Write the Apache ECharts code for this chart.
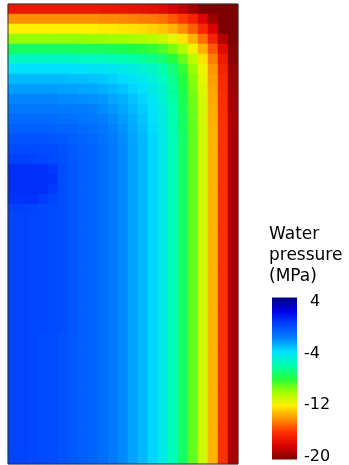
<!DOCTYPE html>
<html>
<head>
    <meta charset="utf-8">
    <title>Water pressure</title>
    <script src="https://cdn.jsdelivr.net/npm/echarts@6/dist/echarts.min.js"></script>
    <style>
        html, body { margin: 0; padding: 0; background: #fff; }
        #chart { width: 349px; height: 465px; }
    </style>
</head>
<body>
    <div id="chart"></div>

    <script type="text/javascript">
        // columns left -> right, rows top -> bottom (10px cells)
        var colIds = ['0','1','2','3','4','5','6','7','8','9','10','11','12','13','14','15','16','17','18','19','20','21','22'];
        var rowIds = ['0','1','2','3','4','5','6','7','8','9','10','11','12','13','14','15','16','17','18','19','20','21','22',
                      '23','24','25','26','27','28','29','30','31','32','33','34','35','36','37','38','39','40','41','42','43','44','45'];

        // water pressure (MPa), one array per row
        var row00 = [-17,-17,-17,-17,-17,-17,-17,-17,-17,-17.1,-17.1,-17.1,-17.2,-17.3,-17.4,-17.6,-18,-18.5,-19.2,-20,-20,-20,-20];
        var row01 = [-14,-14,-14,-14,-14,-14,-14,-14,-14,-14.1,-14.1,-14.2,-14.3,-14.4,-14.5,-14.7,-15.2,-15.8,-16.6,-17.8,-19.3,-20,-20];
        var row02 = [-12,-12,-12,-12,-12,-12,-12,-12,-12,-12.1,-12.1,-12.2,-12.3,-12.4,-12.6,-12.9,-13.3,-14,-15,-16.3,-17.9,-20,-20];
        var row03 = [-9.8,-9.8,-9.8,-9.8,-9.8,-9.8,-9.8,-9.8,-9.9,-9.9,-10,-10,-10.2,-10.3,-10.5,-10.8,-11.4,-12.2,-13.3,-14.7,-16.5,-18.8,-20];
        var row04 = [-7.4,-7.4,-7.4,-7.4,-7.4,-7.4,-7.4,-7.5,-7.5,-7.5,-7.6,-7.7,-7.9,-8.1,-8.3,-8.7,-9.4,-10.4,-11.7,-13.3,-15.2,-17.6,-19.8];
        var row05 = [-5.5,-5.5,-5.5,-5.5,-5.5,-5.5,-5.5,-5.6,-5.6,-5.7,-5.8,-5.9,-6.1,-6.4,-6.7,-7.2,-8,-9.1,-10.6,-12.3,-14.4,-16.9,-19.8];
        var row06 = [-4,-4,-4,-4,-4,-4,-4.1,-4.1,-4.2,-4.2,-4.4,-4.6,-4.8,-5.1,-5.5,-6.1,-7,-8.3,-9.9,-11.7,-13.9,-16.5,-19.4];
        var row07 = [-3.2,-3.2,-3.2,-3.2,-3.2,-3.2,-3.3,-3.3,-3.4,-3.5,-3.7,-3.9,-4.2,-4.5,-5,-5.6,-6.6,-8,-9.6,-11.5,-13.7,-16.3,-19.3];
        var row08 = [-2.6,-2.6,-2.6,-2.6,-2.6,-2.7,-2.7,-2.8,-2.8,-3,-3.2,-3.4,-3.8,-4.1,-4.6,-5.3,-6.4,-7.8,-9.4,-11.3,-13.6,-16.2,-19.2];
        var row09 = [-2.1,-2.1,-2.1,-2.1,-2.1,-2.2,-2.2,-2.3,-2.4,-2.5,-2.8,-3,-3.4,-3.8,-4.3,-5.1,-6.2,-7.6,-9.2,-11.2,-13.5,-16.1,-19.1];
        var row10 = [-1.7,-1.7,-1.7,-1.7,-1.7,-1.8,-1.8,-1.9,-2,-2.2,-2.5,-2.8,-3.2,-3.6,-4.2,-4.9,-6,-7.5,-9.2,-11.1,-13.4,-16.1,-19.1];
        var row11 = [-1.3,-1.3,-1.3,-1.3,-1.3,-1.4,-1.5,-1.6,-1.7,-1.9,-2.2,-2.6,-3,-3.5,-4,-4.8,-5.9,-7.4,-9.1,-11.1,-13.4,-16,-19];
        var row12 = [-0.9,-0.9,-0.9,-0.9,-1,-1,-1.1,-1.3,-1.4,-1.7,-2,-2.4,-2.9,-3.3,-3.9,-4.7,-5.9,-7.4,-9,-11,-13.3,-16,-19];
        var row13 = [-0.5,-0.5,-0.5,-0.5,-0.6,-0.7,-0.9,-1,-1.2,-1.5,-1.9,-2.3,-2.8,-3.2,-3.8,-4.6,-5.8,-7.3,-9,-11,-13.3,-16,-19];
        var row14 = [-0.2,-0.2,-0.2,-0.3,-0.3,-0.5,-0.7,-0.9,-1.1,-1.4,-1.8,-2.2,-2.7,-3.2,-3.8,-4.6,-5.8,-7.3,-9,-11,-13.3,-16,-19];
        var row15 = [0.1,0.1,0,-0.1,-0.2,-0.4,-0.7,-0.9,-1.1,-1.4,-1.8,-2.2,-2.7,-3.2,-3.8,-4.6,-5.8,-7.3,-9,-11,-13.3,-16,-19];
        var row16 = [0.6,0.6,0.6,0.6,0.3,-0.3,-0.6,-0.9,-1.1,-1.4,-1.8,-2.2,-2.7,-3.2,-3.8,-4.6,-5.8,-7.3,-9,-11,-13.3,-16,-19];
        var row17 = [0.6,0.6,0.6,0.6,0.5,-0.3,-0.6,-0.9,-1.1,-1.4,-1.8,-2.2,-2.7,-3.2,-3.8,-4.6,-5.8,-7.3,-9,-11,-13.3,-16,-19];
        var row18 = [0.6,0.6,0.6,0.6,0.3,-0.3,-0.6,-0.9,-1.1,-1.4,-1.8,-2.2,-2.7,-3.2,-3.8,-4.6,-5.8,-7.3,-9,-11,-13.3,-16,-19];
        var row19 = [0.5,0.5,0.5,0.3,0,-0.3,-0.6,-0.9,-1.1,-1.4,-1.8,-2.2,-2.7,-3.2,-3.8,-4.6,-5.8,-7.3,-9,-11,-13.3,-16,-19];
        var row20 = [0.1,0.1,0,-0.1,-0.2,-0.3,-0.6,-0.9,-1.1,-1.4,-1.8,-2.2,-2.7,-3.2,-3.8,-4.6,-5.8,-7.3,-9,-11,-13.3,-16,-19];
        var rowMid = [0,0,-0.1,-0.1,-0.2,-0.3,-0.6,-0.9,-1.1,-1.4,-1.8,-2.2,-2.7,-3.2,-3.8,-4.6,-5.8,-7.3,-9,-11,-13.3,-16,-19];
        var rowLow = [0,0,-0.1,-0.2,-0.3,-0.5,-0.7,-0.9,-1.1,-1.4,-1.8,-2.2,-2.7,-3.2,-3.8,-4.6,-5.8,-7.3,-9,-11,-13.3,-16,-19];

        var fieldRows = [row00,row01,row02,row03,row04,row05,row06,row07,row08,row09,row10,
                         row11,row12,row13,row14,row15,row16,row17,row18,row19,row20,
                         rowMid,rowMid,rowMid,rowMid,rowMid,rowMid,rowMid,rowMid,rowMid,rowMid,rowMid,rowMid,
                         rowLow,rowLow,rowLow,rowLow,rowLow,rowLow,rowLow,rowLow,rowLow,rowLow,rowLow,rowLow,rowLow];

        var tickLabels = [4, -4, -12, -20];
        var scaleMin = -20, scaleMax = 4;
        // the colour bar reaches a little past the end ticks
        var barEnds = [4.7, -20.4];
        // colours from -20 up to 4
        var scaleColors = ['#7F0000','#D80000','#FF3000','#FF9000','#FFF000','#A0FF00','#20FF40',
                           '#00FFB0','#00E0FF','#0080FF','#0044FF','#0000E8','#00007F'];

        var cells = [];
        fieldRows.forEach(function(row, j) {
            row.forEach(function(v, i) {
                cells.push([i, j, v]);
            });
        });

        // top of the bar is the max value
        var barStops = scaleColors.map(function(c, k) {
            return { offset: 1 - k / (scaleColors.length - 1), color: c };
        });

        var myChart = echarts.init(document.getElementById('chart'));

        myChart.setOption({
            animation: false,
            title: {
                text: 'Water\npressure\n(MPa)',
                left: 269,
                top: 224,
                padding: 0,
                textStyle: { fontFamily: 'DejaVu Sans', fontSize: 17, fontWeight: 'normal', color: '#000', lineHeight: 21 }
            },
            grid: [
                { left: 8, top: 4, width: 230, height: 460, show: true, borderColor: '#333', borderWidth: 1, z: 5 },
                { left: 272, top: 302, width: 25, height: 156 }
            ],
            xAxis: [
                { type: 'category', data: colIds, gridIndex: 0, show: false },
                { type: 'value', gridIndex: 1, min: 0, max: 1, show: false }
            ],
            yAxis: [
                { type: 'category', data: rowIds, gridIndex: 0, inverse: true, show: false },
                {
                    type: 'value', gridIndex: 1, min: scaleMin, max: scaleMax, position: 'right',
                    axisLine: { show: false }, axisTick: { show: false }, splitLine: { show: false },
                    axisLabel: {
                        customValues: tickLabels,
                        margin: 7,
                        fontFamily: 'DejaVu Sans',
                        fontSize: 16,
                        color: '#000',
                        formatter: function(v) {
                            return v > 0 ? '{p|' + v + '}' : String(v);
                        },
                        rich: { p: { padding: [0, 0, 0, 6], fontFamily: 'DejaVu Sans', fontSize: 16, color: '#000' } }
                    }
                }
            ],
            visualMap: {
                type: 'continuous',
                show: false,
                min: scaleMin,
                max: scaleMax,
                seriesIndex: 0,
                inRange: { color: scaleColors }
            },
            series: [
                {
                    type: 'heatmap',
                    xAxisIndex: 0,
                    yAxisIndex: 0,
                    data: cells,
                    itemStyle: { borderWidth: 0 },
                    emphasis: { disabled: true },
                    progressive: 0
                },
                {
                    // colour bar
                    type: 'custom',
                    xAxisIndex: 1,
                    yAxisIndex: 1,
                    silent: true,
                    data: [[0, 1, barEnds[0], barEnds[1]]],
                    renderItem: function(params, api) {
                        var p0 = api.coord([api.value(0), api.value(2)]);
                        var p1 = api.coord([api.value(1), api.value(3)]);
                        return {
                            type: 'rect',
                            shape: { x: p0[0], y: p0[1], width: p1[0] - p0[0], height: p1[1] - p0[1] },
                            style: { fill: new echarts.graphic.LinearGradient(0, 0, 0, 1, barStops) }
                        };
                    }
                }
            ]
        });
    </script>
</body>
</html>
